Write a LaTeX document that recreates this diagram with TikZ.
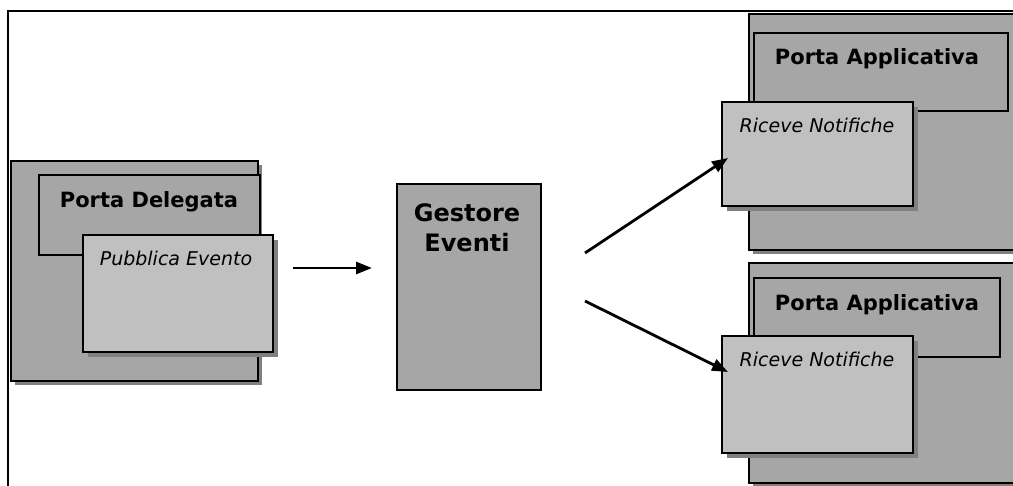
\documentclass[tikz,border=0pt]{standalone}
\usepackage{fontspec}
\setmainfont{DejaVu Sans}
\usetikzlibrary{arrows.meta,shadows}
\definecolor{boxgray}{HTML}{A6A6A6}
\definecolor{litegray}{HTML}{C0C0C0}
\definecolor{shadegray}{HTML}{808080}
\tikzset{
  box/.style={draw=black, line width=1.6pt, inner sep=0pt, anchor=north west},
  darkbox/.style={box, fill=boxgray},
  lightbox/.style={box, fill=litegray},
  shad/.style={drop shadow={fill=shadegray, opacity=1, shadow xshift=#1, shadow yshift=-#1}},
  titletext/.style={font=\fontsize{21}{24}\selectfont\bfseries, anchor=base, inner sep=0pt},
  bigtext/.style={font=\fontsize{24}{29}\selectfont\bfseries, anchor=base, inner sep=0pt},
  subtext/.style={font=\fontsize{19}{22}\selectfont\itshape, anchor=base, inner sep=0pt},
  conn/.style={line width=2.8pt, -{Triangle[length=16pt,width=12pt]}},
  frameline/.style={line width=2.5pt},
}
\begin{document}
\begin{tikzpicture}[x=1pt,y=-1pt]
\useasboundingbox (0,0) rectangle (1013,486);
\clip (0,0) rectangle (1013,486);
% frame
\coordinate (fb) at (8,490);
\coordinate (fc) at (8,11);
\coordinate (fr) at (1020,11);
\draw[frameline] (fb) -- (fc) -- (fr);
% Porta Delegata
\node[darkbox, shad=4pt, minimum width=247pt, minimum height=220pt] (pdOuter) at (10,160) {};
\node[darkbox, minimum width=221pt, minimum height=80pt] (pdInner) at (38,174) {};
\node[titletext] (tPD) at (149,208) {Porta Delegata};
\node[lightbox, shad=5pt, minimum width=190pt, minimum height=117pt] (pub) at (82,234) {};
\node[subtext] (tPub) at (176,266) {Pubblica Evento};
% Gestore Eventi
\node[darkbox, minimum width=144pt, minimum height=206pt] (gest) at (396,183) {};
\node[bigtext] (tG1) at (467,222) {Gestore};
\node[bigtext] (tG2) at (467,252) {Eventi};
% Porta Applicativa 1
\node[darkbox, shad=4pt, minimum width=290pt, minimum height=236pt] (pa1Outer) at (748,13) {};
\node[darkbox, minimum width=254pt, minimum height=78pt] (pa1Inner) at (753,32) {};
\node[titletext] (tPA1) at (877,65) {Porta Applicativa};
\node[lightbox, shad=5pt, minimum width=191pt, minimum height=104pt] (ric1) at (721,101) {};
\node[subtext] (tR1) at (817,133) {Riceve Notifiche};
% Porta Applicativa 2
\node[darkbox, shad=4pt, minimum width=290pt, minimum height=220pt] (pa2Outer) at (748,262) {};
\node[darkbox, minimum width=246pt, minimum height=79pt] (pa2Inner) at (753,277) {};
\node[titletext] (tPA2) at (877,311) {Porta Applicativa};
\node[lightbox, shad=5pt, minimum width=191pt, minimum height=117pt] (ric2) at (721,335) {};
\node[subtext] (tR2) at (817,367) {Riceve Notifiche};
% arrows
\coordinate (a1s) at (293,268);
\coordinate (a1e) at (372,268);
\coordinate (a2s) at (585,253);
\coordinate (a2e) at (728,158);
\coordinate (a3s) at (585,301);
\coordinate (a3e) at (728,372);
\draw[conn] (a1s) -- (a1e);
\draw[conn] (a2s) -- (a2e);
\draw[conn] (a3s) -- (a3e);
\end{tikzpicture}
\end{document}
